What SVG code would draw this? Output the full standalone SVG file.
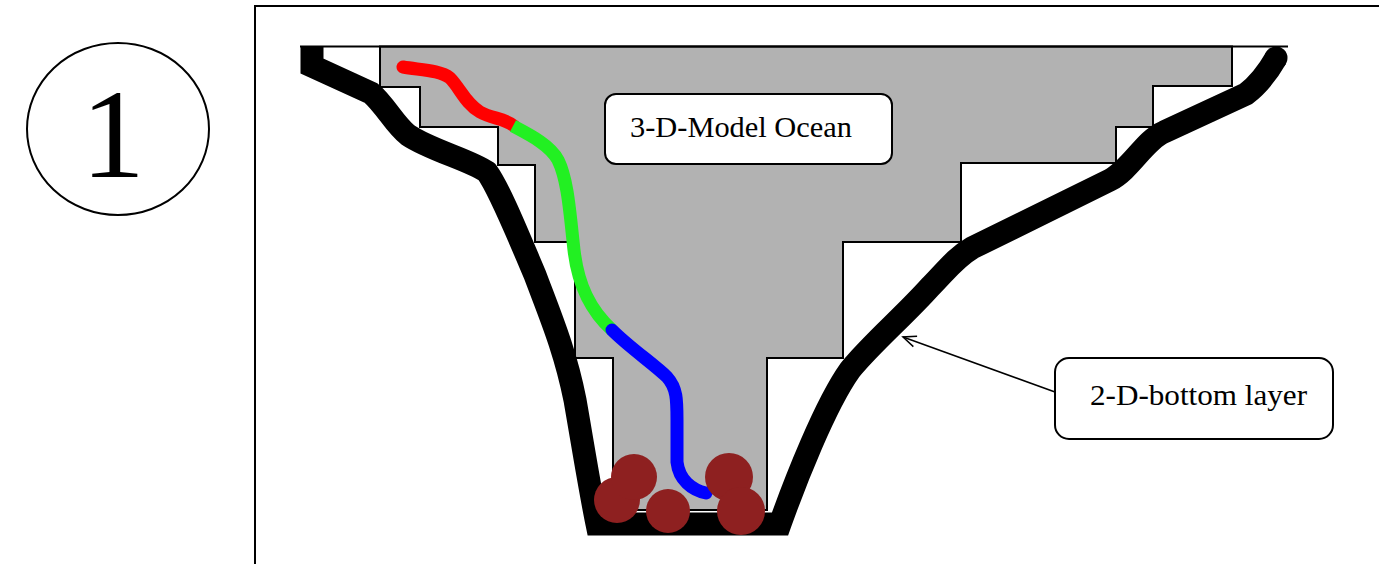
<svg xmlns="http://www.w3.org/2000/svg" width="1379" height="564" viewBox="0 0 1379 564">
  <defs>
    <style>
      .thin { fill: none; stroke: #000; stroke-width: 2; }
      .label-box { fill: #fff; stroke: #000; stroke-width: 2; }
      .label { font-family: "Liberation Serif", "Times New Roman", serif; font-size: 30px; fill: #000; }
      .particle { fill: #8e2020; }
      .path-seg { fill: none; stroke-width: 13; }
    </style>
    <marker id="open-arrow" markerWidth="20" markerHeight="14" refX="14" refY="7" orient="auto" markerUnits="userSpaceOnUse">
      <path d="M1,1.5 L14,7 L1,12.5" fill="none" stroke="#000" stroke-width="1.5"/>
    </marker>
  </defs>

  <rect width="1379" height="564" fill="#fff"/>

  <!-- panel frame -->
  <g id="frame">
    <path d="M255,564 L255,6 L1379,6" class="thin"/>
  </g>

  <!-- panel number -->
  <g id="panel-number">
    <ellipse cx="118" cy="129" rx="91" ry="86" class="thin"/>
    <text x="113" y="177" text-anchor="middle" font-family="Liberation Serif, Times New Roman, serif" font-size="128">1</text>
  </g>

  <!-- 3-D model ocean: stepped grid cells -->
  <g id="ocean-3d">
    <polygon points="380,46.5 380,87 420,87 420,127 498,127 498,165 535,165 535,242 575,242 575,358 613,358 613,510 767,510 767,358 843,358 843,242 961,242 961,163 1116,163 1116,127 1153,127 1153,86 1232,86 1232,46.5" fill="#b2b2b2" stroke="#000" stroke-width="2"/>
    <line x1="300" y1="46.5" x2="1288" y2="46.5" stroke="#000" stroke-width="2"/>
  </g>

  <!-- 2-D bottom layer following the basin floor -->
  <g id="bottom-layer-2d">
    <path d="M312,46 L312,66 L371,93 C385,105 395,125 408,135 C430,150 470,160 487,172 C500,190 520,240 535,275 C550,315 565,350 575,400 C582,440 590,490 597,524 L780,524 C795,482 825,405 850,370 C870,345 905,315 930,287 C945,272 955,258 972,248 L1110,180 C1130,170 1145,140 1164,132 L1246,94 C1258,85 1268,72 1276,58" fill="none" stroke="#000" stroke-width="23" stroke-linejoin="miter" stroke-linecap="butt"/>
    <circle cx="1276" cy="58" r="11.5" fill="#000"/>
  </g>

  <!-- particle trajectory -->
  <g id="trajectory">
    <path class="path-seg" stroke="#ff0000" stroke-linecap="round" d="M403,67 C420,70 440,70 450,78 C460,88 465,103 480,112 C492,119 505,118 514,126"/>
    <path class="path-seg" stroke="#22f022" stroke-linecap="butt" d="M513,126 C530,135 550,145 558,160 C568,180 570,215 574,250 C578,285 590,310 612,330"/>
    <path class="path-seg" stroke="#0000ff" stroke-linecap="round" d="M612,330 C630,348 655,365 667,377 C677,388 677,400 677,420 L677,462 C679,480 692,490 706,493"/>
  </g>

  <!-- deposited particles -->
  <g id="particles">
    <circle class="particle" cx="617" cy="500" r="23"/>
    <circle class="particle" cx="634" cy="477" r="23"/>
    <circle class="particle" cx="668" cy="511" r="22"/>
    <circle class="particle" cx="729" cy="477" r="24"/>
    <circle class="particle" cx="741" cy="511" r="24"/>
  </g>

  <!-- labels -->
  <g id="label-ocean">
    <rect x="605" y="94" width="287" height="70" rx="11" class="label-box"/>
    <text x="630" y="137" class="label" textLength="222" lengthAdjust="spacingAndGlyphs">3-D-Model Ocean</text>
  </g>

  <g id="label-bottom">
    <rect x="1055" y="358" width="278" height="81" rx="14" class="label-box"/>
    <text x="1090" y="405" class="label" textLength="217" lengthAdjust="spacingAndGlyphs">2-D-bottom layer</text>
  </g>

  <!-- connectors -->
  <g id="connectors">
    <line x1="1055" y1="392" x2="903" y2="337" stroke="#000" stroke-width="1.5" marker-end="url(#open-arrow)"/>
  </g>
</svg>
